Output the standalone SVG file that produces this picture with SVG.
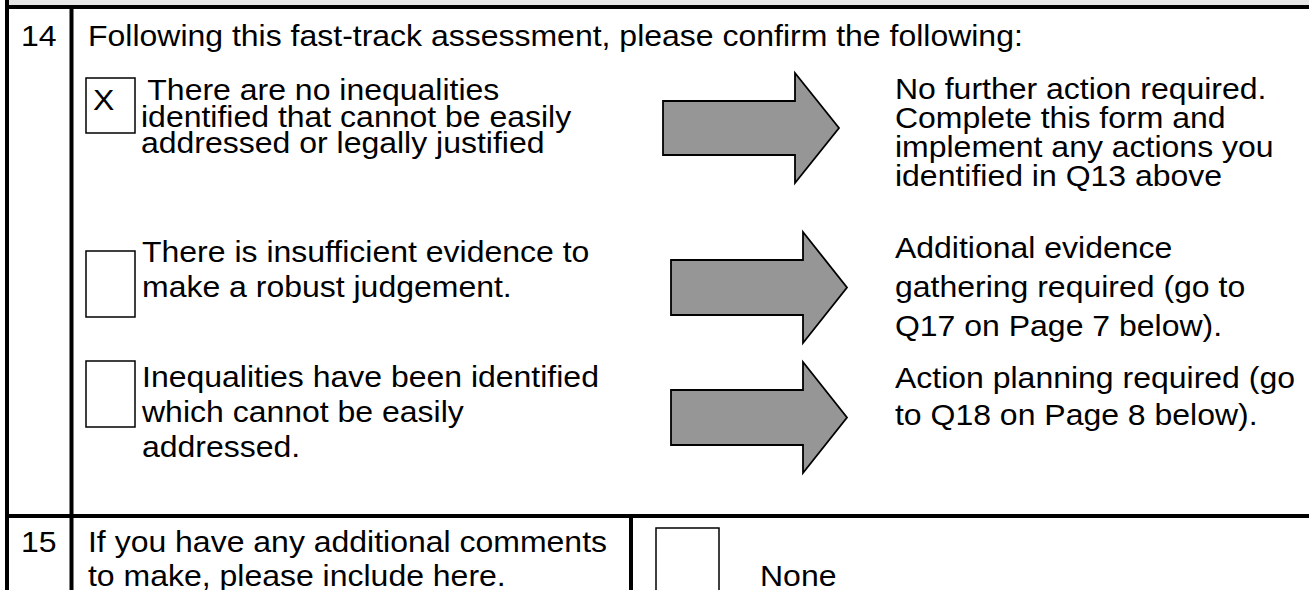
<svg xmlns="http://www.w3.org/2000/svg" width="1309" height="590" viewBox="0 0 1309 590">
<style>
text{font-family:"Liberation Sans",Arial,sans-serif;font-size:29px;fill:#000}
.rule{stroke:#000;stroke-width:4;fill:none}
.box{fill:#fff;stroke:#000;stroke-width:1.5}
.arrow{fill:#969696;stroke:#000;stroke-width:1.8;stroke-linejoin:miter}
</style>
<rect x="0" y="0" width="1309" height="590" fill="#fff"/>
<rect x="8" y="0" width="1301" height="5" fill="#e6e6e6"/>
<g id="table-lines">
<line class="rule" x1="5" y1="7" x2="1309" y2="7"/>
<line class="rule" x1="7" y1="0" x2="7" y2="590"/>
<line class="rule" x1="71.5" y1="9" x2="71.5" y2="590"/>
<line class="rule" x1="5" y1="516" x2="1309" y2="516"/>
<line class="rule" x1="631" y1="518" x2="631" y2="590"/>
</g>
<g id="boxes">
<rect class="box" x="86" y="78" width="49" height="55"/>
<rect class="box" x="86" y="251" width="49" height="66"/>
<rect class="box" x="86" y="361" width="49" height="66"/>
<rect class="box" x="656" y="528" width="63" height="72"/>
</g>
<g id="connectors">
<path class="arrow" d="M663,101 H795 V73 L839,128 L795,183 V155 H663 Z"/>
<path class="arrow" d="M671,260 H803 V232 L847,287.5 L803,343 V315 H671 Z"/>
<path class="arrow" d="M671,390 H803 V362 L847,417.5 L803,473 V445 H671 Z"/>
</g>
<g transform="scale(1.1034,1)">
<g id="q14">
<text x="19" y="46">14</text>
<text x="79.75" y="46">Following this fast-track assessment, please confirm the following:</text>
</g>
<g id="option1">
<text x="84.3" y="110">X</text>
<text x="126" y="100" xml:space="preserve"> There are no inequalities</text>
<text x="127.8" y="127">identified that cannot be easily</text>
<text x="127.8" y="153">addressed or legally justified</text>
</g>
<g id="option2">
<text x="128.7" y="262">There is insufficient evidence to</text>
<text x="128.7" y="297">make a robust judgement.</text>
</g>
<g id="option3">
<text x="128.7" y="387">Inequalities have been identified</text>
<text x="128.7" y="422">which cannot be easily</text>
<text x="128.7" y="457">addressed.</text>
</g>
<g id="outcome1">
<text x="811.1" y="99">No further action required.</text>
<text x="811.1" y="128">Complete this form and</text>
<text x="811.1" y="157">implement any actions you</text>
<text x="811.1" y="186">identified in Q13 above</text>
</g>
<g id="outcome2">
<text x="811.1" y="258">Additional evidence</text>
<text x="811.1" y="297">gathering required (go to</text>
<text x="811.1" y="336">Q17 on Page 7 below).</text>
</g>
<g id="outcome3">
<text x="811.1" y="388">Action planning required (go</text>
<text x="811.1" y="425">to Q18 on Page 8 below).</text>
</g>
<g id="q15">
<text x="19" y="552">15</text>
<text x="79.75" y="552">If you have any additional comments</text>
<text x="79.75" y="586">to make, please include here.</text>
</g>
<g id="none-option">
<text x="688.8" y="586">None</text>
</g>
</g>
</svg>
